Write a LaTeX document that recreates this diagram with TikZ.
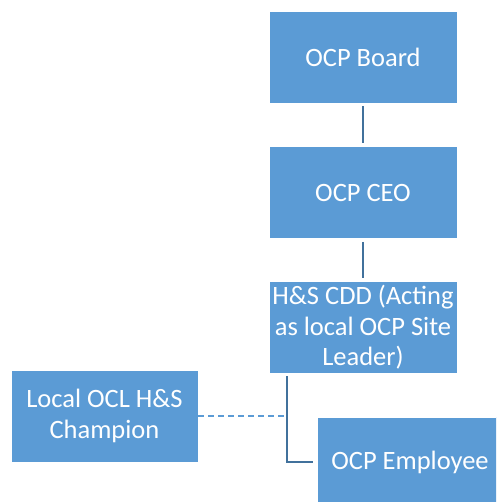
\documentclass[tikz,border=0pt]{standalone}
\usepackage{fontspec}
\setmainfont{Carlito}
\definecolor{boxblue}{HTML}{5B9BD5}
\definecolor{lineblue}{HTML}{41719C}
\begin{document}
\begin{tikzpicture}[x=1pt,y=-1pt,
  orgbox/.style={fill=boxblue,draw=white,line width=0.6pt,text=white,align=center,
    minimum width=188pt,minimum height=92pt,inner sep=0pt,
    font=\fontsize{26.5}{30.5}\selectfont},
  solidlink/.style={draw=lineblue,line width=2.6pt},
  dashlink/.style={draw=boxblue,line width=2pt,dash pattern=on 6pt off 4pt}]
\useasboundingbox (0,0) rectangle (496,502);
\clip (0,0) rectangle (496,502);
\node[orgbox] (board) at (363,57) {OCP Board};
\node[orgbox] (ceo) at (363,192.5) {OCP CEO};
\node[orgbox] (cdd) at (363,327.5) {H\&S CDD (Acting\\as local OCP Site\\Leader)};
\node[orgbox,minimum width=187pt] (champ) at (104.5,416) {Local OCL H\&S\\Champion};
\node[orgbox,minimum width=186pt,minimum height=90pt] (emp) at (410,462) {OCP Employee};
\coordinate (bus) at (287,376);
\draw[solidlink,shorten <=3pt,shorten >=3pt] (board.south) -- (ceo.north);
\draw[solidlink,shorten <=3pt,shorten >=3pt] (ceo.south) -- (cdd.north);
\draw[solidlink] (bus) |- ([xshift=-4pt]emp.west);
\draw[dashlink] (champ.east) -- (champ.east -| bus);
\end{tikzpicture}
\end{document}
